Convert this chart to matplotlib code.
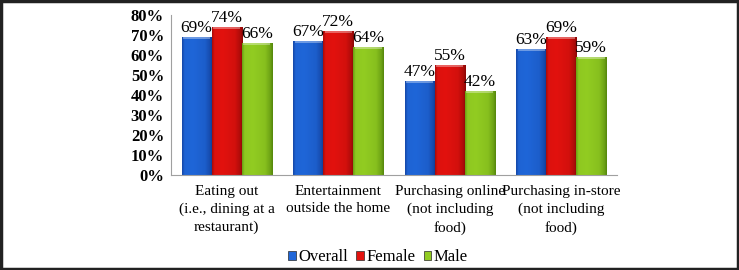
import matplotlib
matplotlib.use("Agg")
import matplotlib.pyplot as plt
from matplotlib.patches import Rectangle
from matplotlib.colors import to_rgb
import numpy as np

categories = ["Eating out\n(i.e., dining at a\nrestaurant)",
              "Entertainment\noutside the home",
              "Purchasing online\n(not including\nfood)",
              "Purchasing in-store\n(not including\nfood)"]
series_names = ["Overall", "Female", "Male"]
overall = [0.69, 0.67, 0.47, 0.63]
female = [0.74, 0.72, 0.55, 0.69]
male = [0.66, 0.64, 0.42, 0.59]
labels_overall = ["69%", "67%", "47%", "63%"]
labels_female = ["74%", "72%", "55%", "69%"]
labels_male = ["66%", "64%", "42%", "59%"]
colors = ["#1F66D8", "#E2120E", "#92CC22"]
dark_colors = ["#0D2F80", "#7A0505", "#4A7A08"]
yticks = [0, 0.1, 0.2, 0.3, 0.4, 0.5, 0.6, 0.7, 0.8]
ytick_labels = ["0%", "10%", "20%", "30%", "40%", "50%", "60%", "70%", "80%"]

plt.rcParams['font.family'] = ['Liberation Serif', 'DejaVu Serif']

fig = plt.figure(figsize=(7.39, 2.70), dpi=100)
ax = fig.add_axes([171/739, 1-175/270, 446/739, 160/270])


def gradient_img(col, dark):
    c = np.array(to_rgb(col))
    d = np.array(to_rgb(dark))
    t = np.linspace(0, 1, 64)
    prof = np.interp(t, [0, 0.08, 0.35, 0.75, 0.92, 1.0], [0.55, 0.05, 0.0, 0.15, 0.5, 0.85])
    row = c[None, :] * (1 - prof[:, None]) + d[None, :] * prof[:, None]
    return np.clip(row[None, :, :], 0, 1)


x = np.arange(len(categories))
w = 0.27
data = [overall, female, male]
lbls = [labels_overall, labels_female, labels_male]
for i, (vals, col, dk, lb, name) in enumerate(zip(data, colors, dark_colors, lbls, series_names)):
    bars = ax.bar(x + (i - 1) * w, vals, w, color=col, edgecolor="#2a2a2a",
                  linewidth=0.5, label=name, zorder=2)
    img = gradient_img(col, dk)
    for b, t in zip(bars, lb):
        x0, x1 = b.get_x(), b.get_x() + b.get_width()
        h = b.get_height()
        im = ax.imshow(img, extent=[x0, x1, 0, h], aspect="auto", zorder=2.5,
                       interpolation="bilinear")
        im.set_clip_path(b)
        ax.bar(b.get_x() + b.get_width() / 2, 0.008, b.get_width() * 0.9,
               bottom=h - 0.01, color="white", alpha=0.35, linewidth=0, zorder=2.7)
        ax.text(b.get_x() + b.get_width() / 2, h + 0.004, t,
                ha="center", va="bottom", fontsize=12.5)

ax.set_xlim(-0.5, 3.5)
ax.set_ylim(0, 0.8)
ax.set_yticks(yticks)
ax.set_yticklabels(ytick_labels, fontsize=12, fontweight="bold")
ax.set_xticks(x)
ax.set_xticklabels(categories, fontsize=11, linespacing=1.45)
ax.tick_params(axis="both", length=0)
ax.tick_params(axis="x", pad=7)
ax.tick_params(axis="y", pad=5)
for s in ["top", "right"]:
    ax.spines[s].set_visible(False)
for s in ["left", "bottom"]:
    ax.spines[s].set_color("#A0A0A0")
    ax.spines[s].set_linewidth(0.8)
    ax.spines[s].set_zorder(3)

leg = fig.legend(loc="center", bbox_to_anchor=(378/739, 1-257/270), ncol=3,
                 frameon=False, fontsize=12, handlelength=0.45, handleheight=0.45,
                 handletextpad=0.15, columnspacing=0.5)

fig.patches.append(Rectangle((0.002, 0.004), 0.996, 0.992, transform=fig.transFigure,
                             fill=False, edgecolor="#222222", linewidth=2.5))

fig.savefig("out.png", dpi=100)
